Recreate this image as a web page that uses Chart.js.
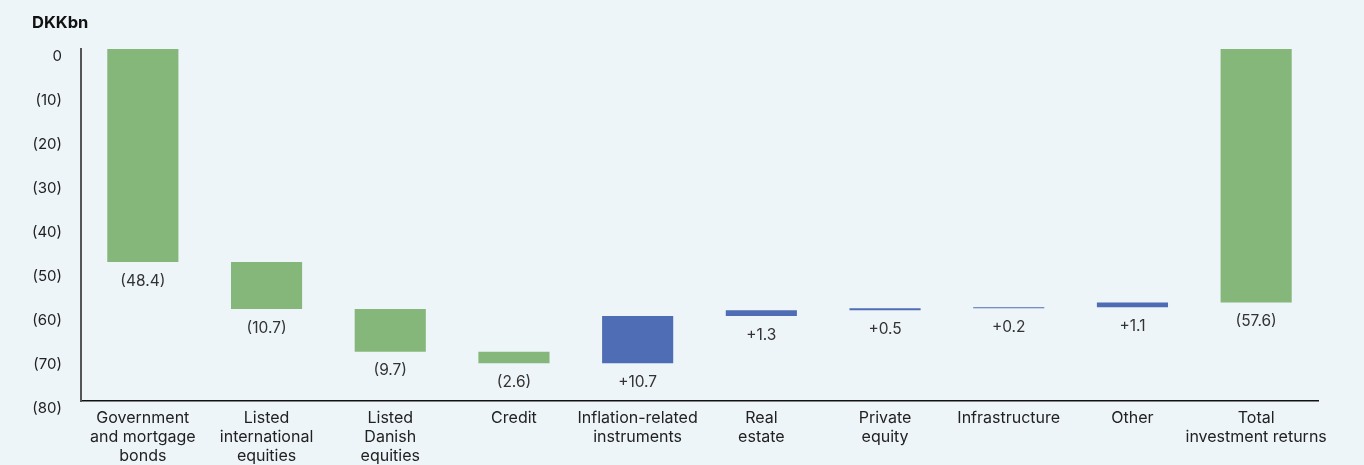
<!DOCTYPE html>
<html>
<head>
<meta charset="utf-8">
<script src="https://cdn.jsdelivr.net/npm/chart.js@4.4.0/dist/chart.umd.min.js"></script>
<style>
  html, body { margin: 0; padding: 0; background: #edf5f8; }
  #wrap { width: 1364px; height: 465px; }
</style>
</head>
<body>
<div id="wrap"><canvas id="waterfall"></canvas></div>
<script>
// DKKbn contributions by asset class
const categories = [
  ["Government", "and mortgage", "bonds"],
  ["Listed", "international", "equities"],
  ["Listed", "Danish", "equities"],
  ["Credit"],
  ["Inflation-related", "instruments"],
  ["Real", "estate"],
  ["Private", "equity"],
  ["Infrastructure"],
  ["Other"],
  ["Total", "investment returns"]
];
const changes = [-48.4, -10.7, -9.7, -2.6, 10.7, 1.3, 0.5, 0.2, 1.1];
const total = -57.6;
const yTicks = [0, -10, -20, -30, -40, -50, -60, -70, -80];

const green = "#85b77b";
const blue = "#4f6db5";
const font = "Inter, 'Liberation Sans', sans-serif";

// floating bars: each step starts where the previous one ended
let running = 0;
const spans = [];
const colors = [];
const labels = [];
changes.forEach(c => {
  spans.push([running, running + c]);
  running += c;
  colors.push(c < 0 ? green : blue);
  labels.push(c < 0 ? "(" + (-c).toFixed(1) + ")" : "+" + c.toFixed(1));
});
spans.push([0, total]);
colors.push(green);
labels.push("(" + (-total).toFixed(1) + ")");

const valueLabels = {
  id: "valueLabels",
  afterDatasetsDraw(chart) {
    const ctx = chart.ctx;
    const meta = chart.getDatasetMeta(0);
    const y = chart.scales.y;
    ctx.save();
    ctx.font = "15.5px " + font;
    ctx.fillStyle = "#333333";
    ctx.textAlign = "center";
    ctx.textBaseline = "middle";
    meta.data.forEach((bar, i) => {
      const low = Math.max(y.getPixelForValue(spans[i][0]), y.getPixelForValue(spans[i][1]));
      ctx.fillText(labels[i], bar.x, low + 19);
    });
    ctx.restore();
  }
};

// unit caption above the value axis
const unitCaption = {
  id: "unitCaption",
  afterDraw(chart) {
    const ctx = chart.ctx;
    ctx.save();
    ctx.font = "bold 16.5px " + font;
    ctx.fillStyle = "#111111";
    ctx.textAlign = "left";
    ctx.textBaseline = "middle";
    ctx.fillText("DKKbn", 32, 23);
    ctx.restore();
  }
};

new Chart(document.getElementById("waterfall"), {
  type: "bar",
  data: {
    labels: categories,
    datasets: [{
      data: spans,
      backgroundColor: colors,
      borderWidth: 0,
      barPercentage: 0.575,
      categoryPercentage: 1
    }]
  },
  options: {
    responsive: true,
    maintainAspectRatio: false,
    animation: false,
    layout: { padding: { left: 0, right: 46, top: 49, bottom: 0 } },
    plugins: {
      legend: { display: false },
      tooltip: { enabled: false }
    },
    scales: {
      x: {
        grid: { display: false, drawTicks: false },
        border: { display: true, color: "#111111", width: 1.5 },
        ticks: {
          color: "#222222",
          padding: 8,
          maxRotation: 0,
          autoSkip: false,
          font: { family: font, size: 16, lineHeight: 1.19 }
        },
        afterFit(scale) { scale.height = 64; }
      },
      y: {
        min: -80,
        max: 0,
        grid: { display: false, drawTicks: false },
        border: { display: true, color: "#555555", width: 2 },
        afterBuildTicks(scale) { scale.ticks = yTicks.map(v => ({ value: v })); },
        ticks: {
          color: "#222222",
          padding: 19,
          labelOffset: 7,
          font: { family: font, size: 15 },
          callback: v => v === 0 ? "0" : "(" + (-v) + ")"
        },
        afterFit(scale) { scale.width = 81; }
      }
    }
  },
  plugins: [valueLabels, unitCaption]
});
</script>
</body>
</html>
